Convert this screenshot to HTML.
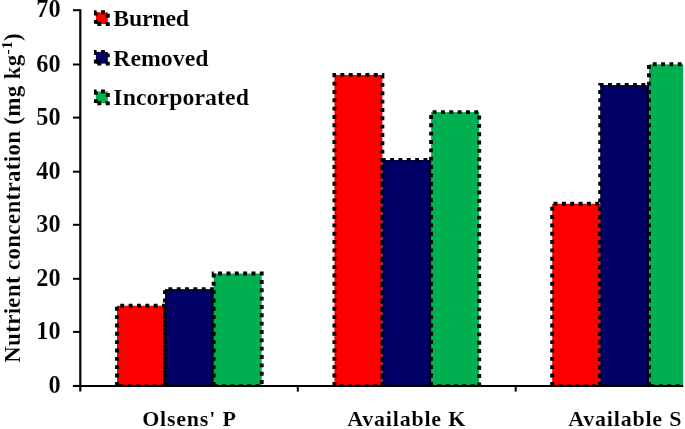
<!DOCTYPE html>
<html><head><meta charset="utf-8"><style>
html,body{margin:0;padding:0;background:#fff;overflow:hidden;width:685px;height:429px;}
svg{display:block;will-change:transform;filter:blur(0.3px);}
.t{font-family:"Liberation Serif",serif;font-weight:bold;font-size:24px;fill:#000;stroke:#fff;stroke-width:0.12px;}
</style></head><body>
<svg width="685" height="429" viewBox="0 0 685 429">
<defs><clipPath id="pc"><rect x="0" y="0" width="685" height="386.9"/></clipPath></defs>
<g clip-path="url(#pc)">
<rect x="117.00" y="305.70" width="48.00" height="80.20" fill="#ff0000"/>
<path d="M117.00,386.2 V305.70 H165.00 V386.2 Z" stroke="#000" stroke-width="3.9" stroke-dasharray="3.9 4.440" stroke-dashoffset="-0.400" stroke-linejoin="miter" fill="none"/>
<rect x="334.40" y="74.90" width="48.00" height="311.00" fill="#ff0000"/>
<path d="M334.40,386.2 V74.90 H382.40 V386.2 Z" stroke="#000" stroke-width="3.9" stroke-dasharray="3.9 4.440" stroke-dashoffset="-0.400" stroke-linejoin="miter" fill="none"/>
<rect x="552.20" y="203.70" width="48.00" height="182.20" fill="#ff0000"/>
<path d="M552.20,386.2 V203.70 H600.20 V386.2 Z" stroke="#000" stroke-width="3.9" stroke-dasharray="3.9 4.440" stroke-dashoffset="-0.400" stroke-linejoin="miter" fill="none"/>
<rect x="165.00" y="289.10" width="48.70" height="96.80" fill="#000066"/>
<path d="M165.00,386.2 V289.10 H213.70 V386.2 Z" stroke="#000" stroke-width="3.9" stroke-dasharray="3.9 4.440" stroke-dashoffset="-0.400" stroke-linejoin="miter" fill="none"/>
<rect x="382.40" y="160.00" width="48.70" height="225.90" fill="#000066"/>
<path d="M382.40,386.2 V160.00 H431.10 V386.2 Z" stroke="#000" stroke-width="3.9" stroke-dasharray="3.9 4.440" stroke-dashoffset="-0.400" stroke-linejoin="miter" fill="none"/>
<rect x="600.20" y="85.05" width="48.80" height="300.85" fill="#000066"/>
<path d="M600.20,386.2 V85.05 H649.00 V386.2 Z" stroke="#000" stroke-width="3.9" stroke-dasharray="3.9 4.440" stroke-dashoffset="-0.400" stroke-linejoin="miter" fill="none"/>
<rect x="213.70" y="273.50" width="48.00" height="112.40" fill="#00b050"/>
<path d="M213.70,386.2 V273.50 H261.70 V386.2 Z" stroke="#000" stroke-width="3.9" stroke-dasharray="3.9 4.440" stroke-dashoffset="-0.400" stroke-linejoin="miter" fill="none"/>
<rect x="431.10" y="112.10" width="48.10" height="273.80" fill="#00b050"/>
<path d="M431.10,386.2 V112.10 H479.20 V386.2 Z" stroke="#000" stroke-width="3.9" stroke-dasharray="3.9 4.440" stroke-dashoffset="-0.400" stroke-linejoin="miter" fill="none"/>
<rect x="649.00" y="64.30" width="48.00" height="321.60" fill="#00b050"/>
<path d="M649.00,386.2 V64.30 H697.00 V386.2 Z" stroke="#000" stroke-width="3.9" stroke-dasharray="3.9 4.440" stroke-dashoffset="-0.400" stroke-linejoin="miter" fill="none"/>
</g>
<line x1="80.3" y1="9.2" x2="80.3" y2="391.6" stroke="#000" stroke-width="2.2"/>
<line x1="73" y1="385.90" x2="80.3" y2="385.90" stroke="#000" stroke-width="2"/>
<text x="60.6" y="392.95" text-anchor="end" class="t" style="font-size:24.3px">0</text>
<line x1="73" y1="331.90" x2="80.3" y2="331.90" stroke="#000" stroke-width="2"/>
<text x="60.6" y="338.95" text-anchor="end" class="t" style="font-size:24.3px">10</text>
<line x1="73" y1="278.80" x2="80.3" y2="278.80" stroke="#000" stroke-width="2"/>
<text x="60.6" y="285.85" text-anchor="end" class="t" style="font-size:24.3px">20</text>
<line x1="73" y1="224.80" x2="80.3" y2="224.80" stroke="#000" stroke-width="2"/>
<text x="60.6" y="231.85" text-anchor="end" class="t" style="font-size:24.3px">30</text>
<line x1="73" y1="171.70" x2="80.3" y2="171.70" stroke="#000" stroke-width="2"/>
<text x="60.6" y="178.75" text-anchor="end" class="t" style="font-size:24.3px">40</text>
<line x1="73" y1="117.60" x2="80.3" y2="117.60" stroke="#000" stroke-width="2"/>
<text x="60.6" y="124.65" text-anchor="end" class="t" style="font-size:24.3px">50</text>
<line x1="73" y1="64.50" x2="80.3" y2="64.50" stroke="#000" stroke-width="2"/>
<text x="60.6" y="71.55" text-anchor="end" class="t" style="font-size:24.3px">60</text>
<line x1="73" y1="10.20" x2="80.3" y2="10.20" stroke="#000" stroke-width="2"/>
<text x="60.6" y="17.25" text-anchor="end" class="t" style="font-size:24.3px">70</text>
<line x1="72.9" y1="385.9" x2="685" y2="385.9" stroke="#000" stroke-width="2"/>
<line x1="297.8" y1="385.9" x2="297.8" y2="391.6" stroke="#000" stroke-width="2"/>
<line x1="515.7" y1="385.9" x2="515.7" y2="391.6" stroke="#000" stroke-width="2"/>
<text x="142.2" y="426" class="t" style="font-size:22px;letter-spacing:0.78px">Olsens' P</text>
<text x="347.25" y="426" class="t" style="font-size:22px;letter-spacing:0.78px">Available K</text>
<text x="568.25" y="426" class="t" style="font-size:22px;letter-spacing:0.78px">Available S</text>
<rect x="95.9" y="12.30" width="11.90" height="11.70" fill="#ff0000"/>
<path d="M95.9,24.00 V12.30 H107.8 V24.00 Z" stroke="#000" stroke-width="3.9" stroke-dasharray="3.9 4.440" stroke-dashoffset="-0.150" stroke-linejoin="miter" fill="none"/>
<text x="113.3" y="25.80" class="t" style="font-size:23.8px;letter-spacing:-0.2px">Burned</text>
<rect x="95.9" y="51.90" width="11.90" height="11.70" fill="#000066"/>
<path d="M95.9,63.60 V51.90 H107.8 V63.60 Z" stroke="#000" stroke-width="3.9" stroke-dasharray="3.9 4.440" stroke-dashoffset="-0.150" stroke-linejoin="miter" fill="none"/>
<text x="113.3" y="65.60" class="t" style="font-size:23.8px;letter-spacing:0px">Removed</text>
<rect x="95.9" y="91.50" width="11.90" height="11.70" fill="#00b050"/>
<path d="M95.9,103.20 V91.50 H107.8 V103.20 Z" stroke="#000" stroke-width="3.9" stroke-dasharray="3.9 4.440" stroke-dashoffset="-0.150" stroke-linejoin="miter" fill="none"/>
<text x="113.3" y="105.00" class="t" style="font-size:23.8px;letter-spacing:0.07px">Incorporated</text>
<rect x="683.2" y="0" width="3" height="429" fill="#fff"/>
<text transform="translate(20.0,362.8) rotate(-90)" class="t" style="font-size:23px;letter-spacing:0.3px">Nutrient concentration (mg kg<tspan dy="-8" font-size="15.5">-1</tspan><tspan dy="8">)</tspan></text>
</svg>
</body></html>
